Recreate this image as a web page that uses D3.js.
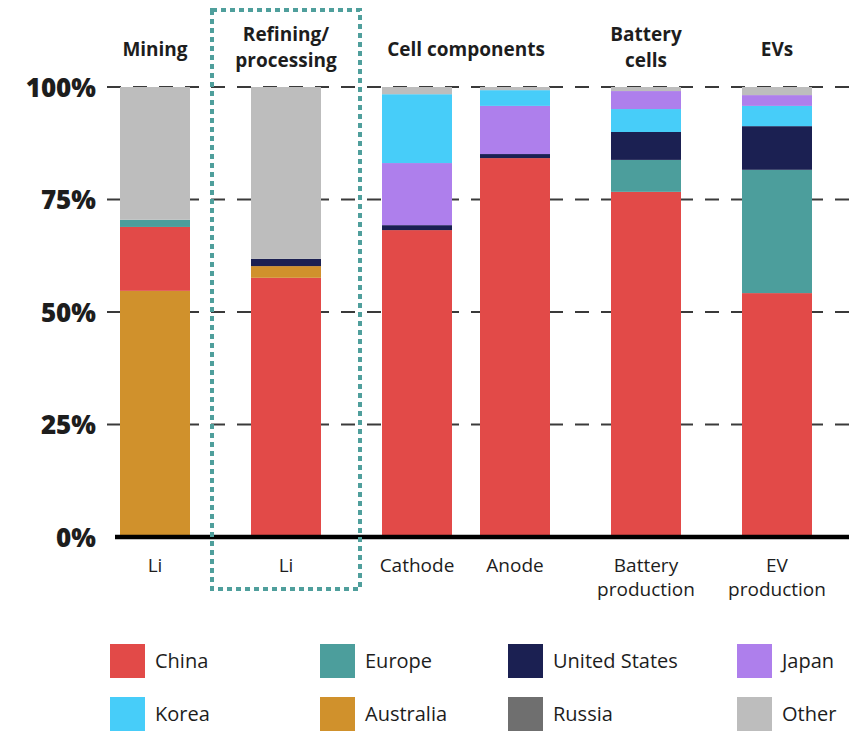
<!DOCTYPE html>
<html>
<head>
<meta charset="utf-8">
<script src="https://cdn.jsdelivr.net/npm/d3@7"></script>
<style>
  html, body { margin: 0; padding: 0; background: #fff; }
  svg { display: block; }
  text { font-family: "Open Sans", "Lato", sans-serif; fill: #1d1d1d; }
</style>
</head>
<body>
<svg id="chart" width="858" height="735"></svg>
<script>
// Supply-chain stages and the bars that belong to each
const stages = ["Mining", "Refining/processing", "Cell components", "Battery cells", "EVs"];
const stageLines = [["Mining"], ["Refining/", "processing"], ["Cell components"], ["Battery", "cells"], ["EVs"]];
const barIds = ["mining-li", "refining-li", "cathode", "anode", "battery", "ev"];
const barStage = ["Mining", "Refining/processing", "Cell components", "Cell components", "Battery cells", "EVs"];
const barLabels = [["Li"], ["Li"], ["Cathode"], ["Anode"], ["Battery", "production"], ["EV", "production"]];

// Shares (%) per bar, in barIds order
const series = ["China", "Europe", "United States", "Japan", "Korea", "Australia", "Russia", "Other"];
const China        = [14.2, 57.6, 68.2, 84.2, 76.7, 54.2];
const Europe       = [ 1.6,  0.0,  0.0,  0.0,  7.1, 27.4];
const UnitedStates = [ 0.0,  1.6,  1.1,  0.9,  6.2,  9.7];
const Japan        = [ 0.0,  0.0, 13.8, 10.7,  4.0,  2.4];
const Korea        = [ 0.0,  0.0, 15.3,  3.5,  5.1,  4.5];
const Australia    = [54.7,  2.6,  0.0,  0.0,  0.0,  0.0];
const Russia       = [ 0.0,  0.0,  0.0,  0.0,  0.0,  0.0];
const Other        = [29.5, 38.2,  1.6,  0.7,  0.9,  1.8];

// Bottom-to-top stacking order inside each bar
const stackOrder = [
  ["Australia", "China", "Europe", "Other"],
  ["China", "Australia", "United States", "Other"],
  ["China", "United States", "Japan", "Korea", "Other"],
  ["China", "United States", "Japan", "Korea", "Other"],
  ["China", "Europe", "United States", "Korea", "Japan", "Other"],
  ["China", "Europe", "United States", "Korea", "Japan", "Other"]
];

const yTicks = [0, 25, 50, 75, 100];
const yTickLabels = ["0%", "25%", "50%", "75%", "100%"];
const highlightStage = "Refining/processing";

const valuesBySeries = {
  "China": China, "Europe": Europe, "United States": UnitedStates, "Japan": Japan,
  "Korea": Korea, "Australia": Australia, "Russia": Russia, "Other": Other
};

const color = d3.scaleOrdinal()
  .domain(series)
  .range(["#e24a48", "#4c9e9c", "#1b2052", "#ae7fec", "#47cdf9", "#d0912c", "#6f6f6f", "#bdbdbd"]);

const svg = d3.select("#chart");

// --- scales -------------------------------------------------------------
const y = d3.scaleLinear().domain([0, 100]).range([537, 87]);

// Horizontal layout in "bar units": a bar is 1 unit, bars inside a stage
// are separated by a small gap, stages by a wider one.
const innerGap = 0.4, stageGap = 0.8714;
const unitStart = [];
let u = 0;
barIds.forEach((id, i) => {
  if (i > 0) u += (barStage[i] === barStage[i - 1]) ? innerGap : stageGap;
  unitStart.push(u);
  u += 1;
});
const x = d3.scaleLinear().domain([0, u]).range([120, 812]);
const barW = x(1) - x(0);
const barCx = i => x(unitStart[i] + 0.5);

// --- gridlines ----------------------------------------------------------
const grid = svg.append("g");
grid.selectAll("line")
  .data(yTicks.filter(t => t > 0))
  .join("line")
  .attr("x1", 107).attr("x2", 858)
  .attr("y1", d => y(d)).attr("y2", d => y(d))
  .attr("stroke", "#3a3a3a")
  .attr("stroke-width", 2)
  .attr("stroke-dasharray", "14,12");

// --- y axis labels ------------------------------------------------------
const yAxis = d3.axisLeft(y).tickValues(yTicks)
  .tickFormat((d, i) => yTickLabels[i]).tickSize(0).tickPadding(0);
const yG = svg.append("g").attr("transform", "translate(96,0)").call(yAxis);
yG.select(".domain").remove();
yG.selectAll("text")
  .attr("font-family", "Lato, 'Open Sans', sans-serif")
  .attr("font-size", 26)
  .attr("font-weight", 900)
  .attr("fill", "#111")
  .attr("dy", "0.36em");

// --- stacked bars -------------------------------------------------------
const segments = [];
barIds.forEach((id, i) => {
  let acc = 0;
  stackOrder[i].forEach(s => {
    const v = valuesBySeries[s][i];
    if (v > 0) segments.push({ bar: i, series: s, y0: acc, y1: acc + v });
    acc += v;
  });
});

svg.append("g").selectAll("rect")
  .data(segments)
  .join("rect")
  .attr("x", d => x(unitStart[d.bar]))
  .attr("width", barW)
  .attr("y", d => y(d.y1))
  .attr("height", d => y(d.y0) - y(d.y1))
  .attr("fill", d => color(d.series));

// --- baseline -----------------------------------------------------------
svg.append("line")
  .attr("x1", 115).attr("x2", 849)
  .attr("y1", y(0)).attr("y2", y(0))
  .attr("stroke", "#000").attr("stroke-width", 4.5);

// --- bar labels ---------------------------------------------------------
const xl = svg.append("g");
barLabels.forEach((lines, i) => {
  lines.forEach((ln, k) => xl.append("text")
    .attr("x", barCx(i)).attr("y", 572 + k * 24)
    .attr("text-anchor", "middle")
    .attr("font-size", 19)
    .attr("fill", "#222")
    .text(ln));
});

// --- stage headers ------------------------------------------------------
const stageCx = s => {
  const idx = barIds.map((d, i) => i).filter(i => barStage[i] === s);
  return (barCx(idx[0]) + barCx(idx[idx.length - 1])) / 2;
};
const hd = svg.append("g");
stages.forEach((s, k) => {
  const lines = stageLines[k];
  const top = lines.length === 1 ? 56 : 41;
  lines.forEach((ln, j) => hd.append("text")
    .attr("x", stageCx(s))
    .attr("y", top + j * 26)
    .attr("text-anchor", "middle")
    .attr("font-size", 19)
    .attr("font-weight", 700)
    .attr("fill", "#1d1d1d")
    .text(ln));
});

// --- highlight box around refining stage ----------------------------------
const hx = stageCx(highlightStage);
svg.append("rect")
  .attr("x", hx - 74).attr("y", 10)
  .attr("width", 148).attr("height", 579)
  .attr("fill", "none")
  .attr("stroke", "#4f9f9c")
  .attr("stroke-width", 4)
  .attr("stroke-dasharray", "5,4");

// --- legend -------------------------------------------------------------
const legendCols = [110, 320, 508, 737];
const legendRows = [644, 697];
const lg = svg.append("g");
const legendOrder = ["China", "Europe", "United States", "Japan", "Korea", "Australia", "Russia", "Other"];
legendOrder.forEach((s, i) => {
  const cx = legendCols[i % 4], cy = legendRows[Math.floor(i / 4)];
  lg.append("rect").attr("x", cx).attr("y", cy).attr("width", 35).attr("height", 34).attr("fill", color(s));
  lg.append("text").attr("x", cx + 45).attr("y", cy + 17).attr("dy", "0.35em")
    .attr("font-size", 20).attr("fill", "#222").text(s);
});
</script>
</body>
</html>
